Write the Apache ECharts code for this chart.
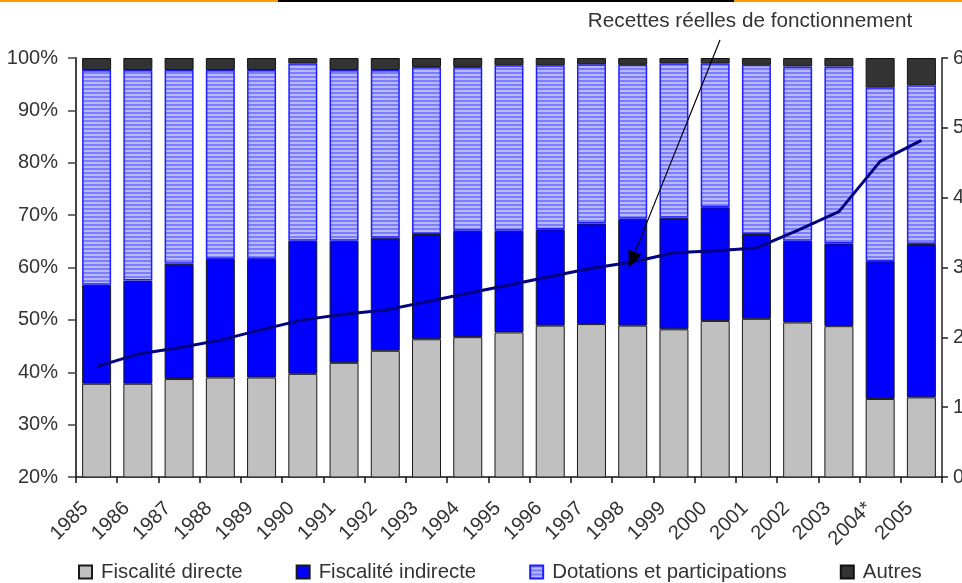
<!DOCTYPE html>
<html>
<head>
<meta charset="utf-8">
<script src="https://cdn.jsdelivr.net/npm/echarts@6/dist/echarts.min.js"></script>
<style>
  html, body { margin: 0; padding: 0; overflow: hidden; background: #fff; }
  #chart { width: 990px; height: 583px; }
</style>
</head>
<body>
<div id="chart"></div>
<script>
// Années
const years = ['1985','1986','1987','1988','1989','1990','1991','1992','1993','1994',
  '1995','1996','1997','1998','1999','2000','2001','2002','2003','2004*','2005'];

// Structure des recettes (en % du total)
const fiscaliteDirecte = [37.8, 37.8, 38.7, 39.0, 39.0, 39.7, 41.8, 44.1, 46.3, 46.7,
  47.6, 48.9, 49.2, 48.9, 48.2, 49.8, 50.2, 49.5, 48.8, 34.9, 35.2];
const fiscaliteIndirecte = [18.9, 19.7, 22.0, 22.6, 22.6, 25.4, 23.3, 21.6, 20.1, 20.3,
  19.4, 18.4, 19.2, 20.4, 21.3, 21.7, 16.2, 15.6, 15.8, 26.3, 29.3];
const dotations = [41.0, 40.2, 37.0, 36.1, 36.1, 33.9, 32.6, 32.0, 31.9, 31.3,
  31.6, 31.3, 30.4, 29.4, 29.5, 27.5, 32.3, 33.3, 33.8, 33.2, 30.3];
const autres = [2.3, 2.3, 2.3, 2.3, 2.3, 1.0, 2.3, 2.3, 1.7, 1.7,
  1.4, 1.4, 1.2, 1.3, 1.0, 1.0, 1.3, 1.6, 1.6, 5.6, 5.2];

// Recettes réelles de fonctionnement (axe de droite)
const recettes = [15.8, 17.6, 18.5, 19.6, 21.1, 22.5, 23.3, 23.9, 25.1, 26.3,
  27.5, 28.7, 29.9, 30.8, 32.1, 32.4, 32.8, 35.3, 38.0, 45.2, 48.2];

const leftTicks = { min: 20, max: 100, interval: 10 };
const rightTicks = { min: 0, max: 60, interval: 10 };

const FONT = 'Liberation Sans, Arial, sans-serif';
const TXT = '#333333';

// Motif hachuré horizontal pour les dotations
function stripePattern() {
  const c = document.createElement('canvas');
  c.width = 4; c.height = 4;
  const g = c.getContext('2d');
  g.fillStyle = '#7c7cff'; g.fillRect(0, 0, 4, 2);
  g.fillStyle = '#b9b9ff'; g.fillRect(0, 2, 4, 2);
  return { image: c, repeat: 'repeat' };
}

const chart = echarts.init(document.getElementById('chart'), null, { renderer: 'canvas' });

const barCommon = { type: 'bar', stack: 'total', barWidth: 29, yAxisIndex: 0 };

chart.setOption({
  animation: false,
  backgroundColor: '#ffffff',
  textStyle: { fontFamily: FONT },
  grid: { left: 76, top: 58, width: 866, height: 419, containLabel: false },
  legend: {
    left: 78, top: 562, padding: 0,
    itemWidth: 13, itemHeight: 13, itemGap: 53,
    icon: 'rect',
    textStyle: { fontSize: 20.4, color: TXT, fontFamily: FONT, padding: [0, 0, 0, 4] },
    data: ['Fiscalité directe', 'Fiscalité indirecte', 'Dotations et participations', 'Autres']
  },
  xAxis: {
    type: 'category',
    data: years,
    boundaryGap: true,
    axisLine: { show: true, lineStyle: { color: '#111', width: 1.5 } },
    axisTick: { show: true, length: 6, lineStyle: { color: '#111', width: 1.5 } },
    axisLabel: { rotate: 45, fontSize: 20, color: TXT, margin: 17, interval: 0,
                 fontFamily: FONT, padding: [0, 16, 0, 0] }
  },
  yAxis: [
    {
      type: 'value', position: 'left',
      min: leftTicks.min, max: leftTicks.max, interval: leftTicks.interval,
      splitLine: { show: false },
      axisLine: { show: true, lineStyle: { color: '#444', width: 2 } },
      axisTick: { show: true, length: 8, lineStyle: { color: '#444', width: 1.5 } },
      axisLabel: { formatter: '{value}%', fontSize: 20, color: TXT, margin: 18, fontFamily: FONT }
    },
    {
      type: 'value', position: 'right',
      min: rightTicks.min, max: rightTicks.max, interval: rightTicks.interval,
      splitLine: { show: false },
      axisLine: { show: true, lineStyle: { color: '#222', width: 1.5 } },
      axisTick: { show: true, length: 6, lineStyle: { color: '#222', width: 1.5 } },
      axisLabel: { fontSize: 20, color: TXT, margin: 11, fontFamily: FONT }
    }
  ],
  series: [
    Object.assign({}, barCommon, {
      name: 'Fiscalité directe', data: fiscaliteDirecte,
      itemStyle: { color: '#c0c0c0', borderColor: '#1a1a1a', borderWidth: 1 }
    }),
    Object.assign({}, barCommon, {
      name: 'Fiscalité indirecte', data: fiscaliteIndirecte,
      itemStyle: { color: '#0000ff', borderColor: '#1a1a1a', borderWidth: 1 }
    }),
    Object.assign({}, barCommon, {
      name: 'Dotations et participations', data: dotations,
      itemStyle: { color: stripePattern(), borderColor: '#2020ff', borderWidth: 1.5 }
    }),
    Object.assign({}, barCommon, {
      name: 'Autres', data: autres,
      itemStyle: { color: '#333333', borderColor: '#111', borderWidth: 1 }
    }),
    {
      name: 'Recettes réelles de fonctionnement',
      type: 'line', yAxisIndex: 1, data: recettes,
      symbol: 'none', smooth: false, z: 5,
      lineStyle: { color: '#000080', width: 3 }
    }
  ]
});

// Annotation : libellé et flèche vers la courbe des recettes
const idx = years.indexOf('1998');
const tip = chart.convertToPixel({ xAxisIndex: 0, yAxisIndex: 1 }, [years[idx], recettes[idx]]);
const tipX = tip[0] - 4, tipY = tip[1] + 6;
const startX = 720, startY = 40;
const dx = tipX - startX, dy = tipY - startY;
const len = Math.sqrt(dx * dx + dy * dy);
const ux = dx / len, uy = dy / len;
const headLen = 17, headHalf = 7;
const bx = tipX - ux * headLen, by = tipY - uy * headLen;

chart.setOption({
  graphic: [
    { type: 'rect', shape: { x: 0, y: 0, width: 278, height: 2 }, style: { fill: '#ff9900' }, silent: true },
    { type: 'rect', shape: { x: 278, y: 0, width: 456, height: 2 }, style: { fill: '#000000' }, silent: true },
    { type: 'rect', shape: { x: 734, y: 0, width: 300, height: 2 }, style: { fill: '#ff9900' }, silent: true },
    {
      type: 'text', x: 750, y: 21, z: 10,
      style: { text: 'Recettes réelles de fonctionnement', fontSize: 20.7, fontFamily: FONT,
               fill: TXT, align: 'center', verticalAlign: 'middle' }
    },
    {
      type: 'line', z: 10,
      shape: { x1: startX, y1: startY, x2: bx, y2: by },
      style: { stroke: '#000', lineWidth: 1.2 }
    },
    {
      type: 'polygon', z: 10,
      shape: { points: [[tipX, tipY], [bx - uy * headHalf, by + ux * headHalf], [bx + uy * headHalf, by - ux * headHalf]] },
      style: { fill: '#000' }
    }
  ]
});
</script>
</body>
</html>
